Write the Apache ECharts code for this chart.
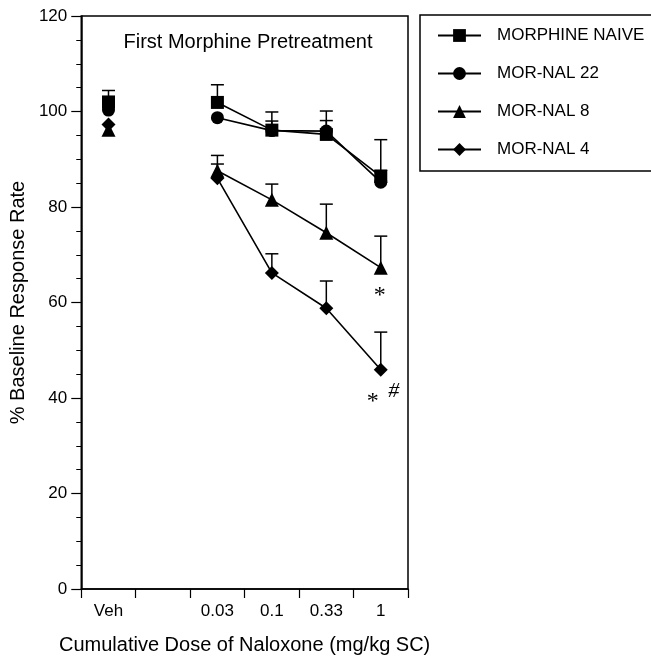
<!DOCTYPE html>
<html>
<head>
<meta charset="utf-8">
<script src="https://cdn.jsdelivr.net/npm/echarts@6/dist/echarts.min.js"></script>
<style>
html,body{margin:0;padding:0;background:#fff;}
#chart{width:651px;height:660px;}
</style>
</head>
<body>
<div id="chart"></div>
<script>
// ---- data ----
var categories = ['Veh', '', '0.03', '0.1', '0.33', '1'];
var seriesNames = ['MORPHINE NAIVE', 'MOR-NAL 22', 'MOR-NAL 8', 'MOR-NAL 4'];
var naive  = [102.0, null, 101.9, 96.1, 95.2, 86.4];
var nal22  = [100.3, null, 98.7, 96.0, 95.9, 85.2];
var nal8   = [96.2, null, 87.6, 81.5, 74.6, 67.3];
var nal4   = [97.3, null, 86.0, 66.2, 58.8, 45.9];
// upper error bar ends (mean + SEM)
var naiveTop = [104.4, null, 105.6, 99.9, 100.1, 94.1];
var nal22Top = [null, null, null, 98.0, 98.1, 87.7];
var nal8Top  = [null, null, 90.8, 84.8, 80.6, 73.9];
var nal4Top  = [null, null, 89.0, 70.2, 64.5, 53.8];
// significance annotations
var annotText = ['*', '*', '#'];
var annotCat  = ['1', '1', '1'];
var annotVal  = [62.3, 40.0, 42.1];

var symbols = ['rect', 'circle', 'triangle', 'diamond'];
var symbolSizes = [13, 13, 14, 14];
var means = [naive, nal22, nal8, nal4];
var tops = [naiveTop, nal22Top, nal8Top, nal4Top];

// annotation style (pixel offsets / fonts)
var annotStyle = [
  {dx: -1, dy: 4, font: '24px "Liberation Serif", serif'},
  {dx: -8, dy: 4, font: '24px "Liberation Serif", serif'},
  {dx: 13, dy: 3, font: 'italic 22px "Liberation Serif", serif'}
];

var FONT = '"Liberation Sans", Arial, Helvetica, sans-serif';

var series = [];
means.forEach(function (m, i) {
  var errData = [];
  tops[i].forEach(function (t, k) {
    if (t != null && m[k] != null) errData.push([k, m[k], t]);
  });
  series.push({
    type: 'custom',
    name: seriesNames[i] + ' err',
    z: 1,
    silent: true,
    data: errData,
    renderItem: function (params, api) {
      var x = api.value(0);
      var p0 = api.coord([x, api.value(1)]);
      var p1 = api.coord([x, api.value(2)]);
      var hw = 6.5;
      var st = {stroke: '#000', lineWidth: 1.5, fill: null};
      return {
        type: 'group',
        children: [
          {type: 'line', shape: {x1: p0[0], y1: p0[1], x2: p1[0], y2: p1[1]}, style: st},
          {type: 'line', shape: {x1: p1[0] - hw, y1: p1[1], x2: p1[0] + hw, y2: p1[1]}, style: st}
        ]
      };
    }
  });
});
means.forEach(function (m, i) {
  series.push({
    type: 'line',
    name: seriesNames[i],
    data: m,
    z: 3,
    connectNulls: false,
    symbol: symbols[i],
    symbolSize: symbolSizes[i],
    showAllSymbol: true,
    lineStyle: {color: '#000', width: 1.6},
    itemStyle: {color: '#000', borderColor: '#000', borderWidth: 0},
    emphasis: {disabled: true},
    animation: false
  });
});
series.push({
  type: 'custom',
  name: 'annot',
  z: 4,
  silent: true,
  data: annotText.map(function (t, i) { return [annotCat[i], annotVal[i], i]; }),
  renderItem: function (params, api) {
    var idx = api.value(2);
    var p = api.coord([api.value(0), api.value(1)]);
    var s = annotStyle[idx];
    return {
      type: 'text',
      x: p[0] + s.dx,
      y: p[1] + s.dy,
      style: {text: annotText[idx], font: s.font, fill: '#000', align: 'center', verticalAlign: 'middle'}
    };
  }
});

var chart = echarts.init(document.getElementById('chart'), null, {renderer: 'canvas'});
chart.setOption({
  animation: false,
  backgroundColor: '#fff',
  title: {
    text: 'First Morphine Pretreatment',
    left: 243, top: 27,
    textAlign: 'center',
    textStyle: {fontFamily: FONT, fontSize: 20, fontWeight: 'normal', color: '#000'}
  },
  legend: {
    orient: 'vertical',
    left: 420, top: 15,
    padding: [12, 12, 13, 17],
    itemGap: 21,
    itemWidth: 43,
    itemHeight: 16,
    borderColor: '#000',
    borderWidth: 1.5,
    data: seriesNames,
    selectedMode: false,
    textStyle: {fontFamily: FONT, fontSize: 17, color: '#000', padding: [0, 0, 0, 11]}
  },
  grid: {
    left: 77, top: 16, right: 243, bottom: 68,
    show: true, borderColor: '#000', borderWidth: 1.5, backgroundColor: 'transparent'
  },
  xAxis: {
    type: 'category',
    data: categories,
    boundaryGap: true,
    name: 'Cumulative Dose of Naloxone (mg/kg SC)',
    nameLocation: 'middle',
    nameGap: 46,
    nameTextStyle: {fontFamily: FONT, fontSize: 20, color: '#000'},
    axisLine: {lineStyle: {color: '#000', width: 1.5}},
    axisTick: {show: true, length: 9, inside: false, lineStyle: {color: '#000', width: 1.2}, interval: 0},
    axisLabel: {fontFamily: FONT, fontSize: 17, color: '#000', margin: 14, interval: 0},
    splitLine: {show: false}
  },
  yAxis: {
    type: 'value',
    min: 0, max: 120, interval: 20,
    name: '% Baseline Response Rate',
    nameLocation: 'middle',
    nameGap: 39,
    nameRotate: 90,
    nameTextStyle: {fontFamily: FONT, fontSize: 20, color: '#000'},
    axisLine: {show: true, lineStyle: {color: '#000', width: 1.5}},
    axisTick: {show: true, length: 10, lineStyle: {color: '#000', width: 1.2}},
    minorTick: {show: true, splitNumber: 4, length: 5, lineStyle: {color: '#000', width: 1}},
    axisLabel: {fontFamily: FONT, fontSize: 17, color: '#000', margin: 14},
    splitLine: {show: false}
  },
  series: series
});
</script>
</body>
</html>
